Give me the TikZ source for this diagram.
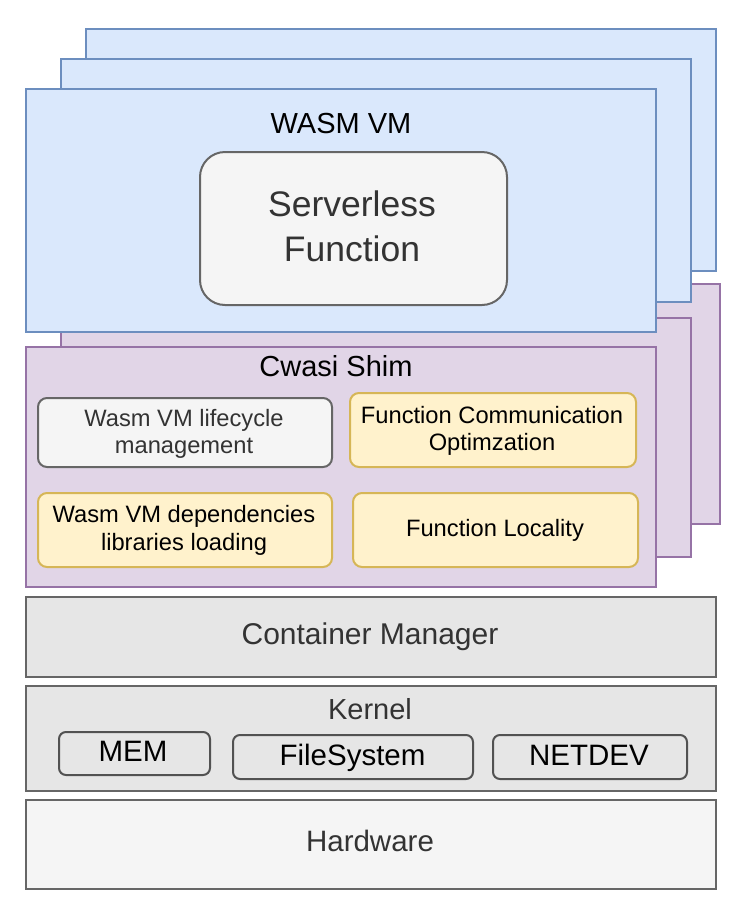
\documentclass[tikz,border=0pt]{standalone}
\usepackage{fontspec}
\setmainfont{Liberation Sans}
\definecolor{bfill}{HTML}{DAE8FC}
\definecolor{bline}{HTML}{6C8EBF}
\definecolor{pfill}{HTML}{E1D5E7}
\definecolor{pline}{HTML}{9673A6}
\definecolor{yfill}{HTML}{FFF2CC}
\definecolor{yline}{HTML}{D6B656}
\definecolor{gfill}{HTML}{F5F5F5}
\definecolor{gline}{HTML}{666666}
\definecolor{dfill}{HTML}{E6E6E6}
\definecolor{tgray}{HTML}{333333}
\newcommand{\fsz}[1]{\fontsize{#1}{#1}\selectfont}
\tikzset{
  box/.style={rectangle, line width=2pt, inner sep=0pt},
  bluebox/.style={box, fill=bfill, draw=bline},
  purplebox/.style={box, fill=pfill, draw=pline},
  yellowbox/.style={box, fill=yfill, draw=yline, rounded corners=9pt},
  graybox/.style={box, fill=gfill, draw=gline, rounded corners=9pt},
  layerbox/.style={box, draw=gline},
  kbox/.style={box, fill=dfill, draw=gline!80!black, rounded corners=7pt},
  lbl/.style={inner sep=0pt, anchor=base}
}
\begin{document}
\begin{tikzpicture}[x=1pt,y=-1pt]
\useasboundingbox[fill=white] (0,0) rectangle (742,919);
% purple stack
\node[purplebox, minimum width=634, minimum height=240] (p3) at (403,404) {};
\node[purplebox, minimum width=630, minimum height=239] (p2) at (376,437.5) {};
\node[purplebox, minimum width=630, minimum height=240] (p1) at (341,467) {};
% blue stack
\node[bluebox, minimum width=630, minimum height=242] (b3) at (401,150) {};
\node[bluebox, minimum width=630, minimum height=243] (b2) at (376,180.5) {};
\node[bluebox, minimum width=630, minimum height=243] (b1) at (341,210.5) {};
\node[lbl, font=\fsz{29}] (wasm) at (341,133.3) {WASM VM};
\node[graybox, rounded corners=25pt, minimum width=307, minimum height=153] (sf) at (353.5,228.5) {};
\node[lbl, text=tgray, font=\fsz{35.5}] (sf1) at (352,216.7) {Serverless};
\node[lbl, text=tgray, font=\fsz{35.5}] (sf2) at (352,261) {Function};
% cwasi shim
\node[lbl, font=\fsz{29}] (shim) at (336,376.7) {Cwasi Shim};
\node[graybox, minimum width=294, minimum height=69] (life) at (185,432.5) {};
\node[lbl, text=tgray, font=\fsz{23.7}] (life1) at (184,426) {Wasm VM lifecycle};
\node[lbl, text=tgray, font=\fsz{23.7}] (life2) at (184,453.5) {management};
\node[yellowbox, minimum width=286, minimum height=74] (comm) at (493,430) {};
\node[lbl, font=\fsz{23.7}] (comm1) at (492,423) {Function Communication};
\node[lbl, font=\fsz{23.7}] (comm2) at (492,450.5) {Optimzation};
\node[yellowbox, minimum width=294, minimum height=74] (deps) at (185,530) {};
\node[lbl, font=\fsz{23.7}] (deps1) at (184,522.8) {Wasm VM dependencies};
\node[lbl, font=\fsz{23.7}] (deps2) at (184,550.3) {libraries loading};
\node[yellowbox, minimum width=285, minimum height=74] (loc) at (495.5,530) {};
\node[lbl, font=\fsz{23.7}] (loc1) at (495,536.5) {Function Locality};
% lower layers
\node[layerbox, fill=dfill, minimum width=690, minimum height=80] (cm) at (371,637) {};
\node[lbl, text=tgray, font=\fsz{30}] (cmt) at (370,644.3) {Container Manager};
\node[layerbox, fill=dfill, minimum width=690, minimum height=105] (kern) at (371,738.5) {};
\node[lbl, text=tgray, font=\fsz{29}] (kt) at (370,719.5) {Kernel};
\node[kbox, minimum width=151, minimum height=43] (mem) at (134.5,753.5) {};
\node[lbl, font=\fsz{29.5}] (memt) at (133,761) {MEM};
\node[kbox, minimum width=240, minimum height=44] (fs) at (353,757) {};
\node[lbl, font=\fsz{29.5}] (fst) at (352.5,765) {FileSystem};
\node[kbox, minimum width=194, minimum height=44] (net) at (590,757) {};
\node[lbl, font=\fsz{29.5}] (nett) at (589,765) {NETDEV};
\node[layerbox, fill=gfill, minimum width=690, minimum height=89] (hw) at (371,844.5) {};
\node[lbl, text=tgray, font=\fsz{29.5}] (hwt) at (370,851) {Hardware};
\end{tikzpicture}
\end{document}
